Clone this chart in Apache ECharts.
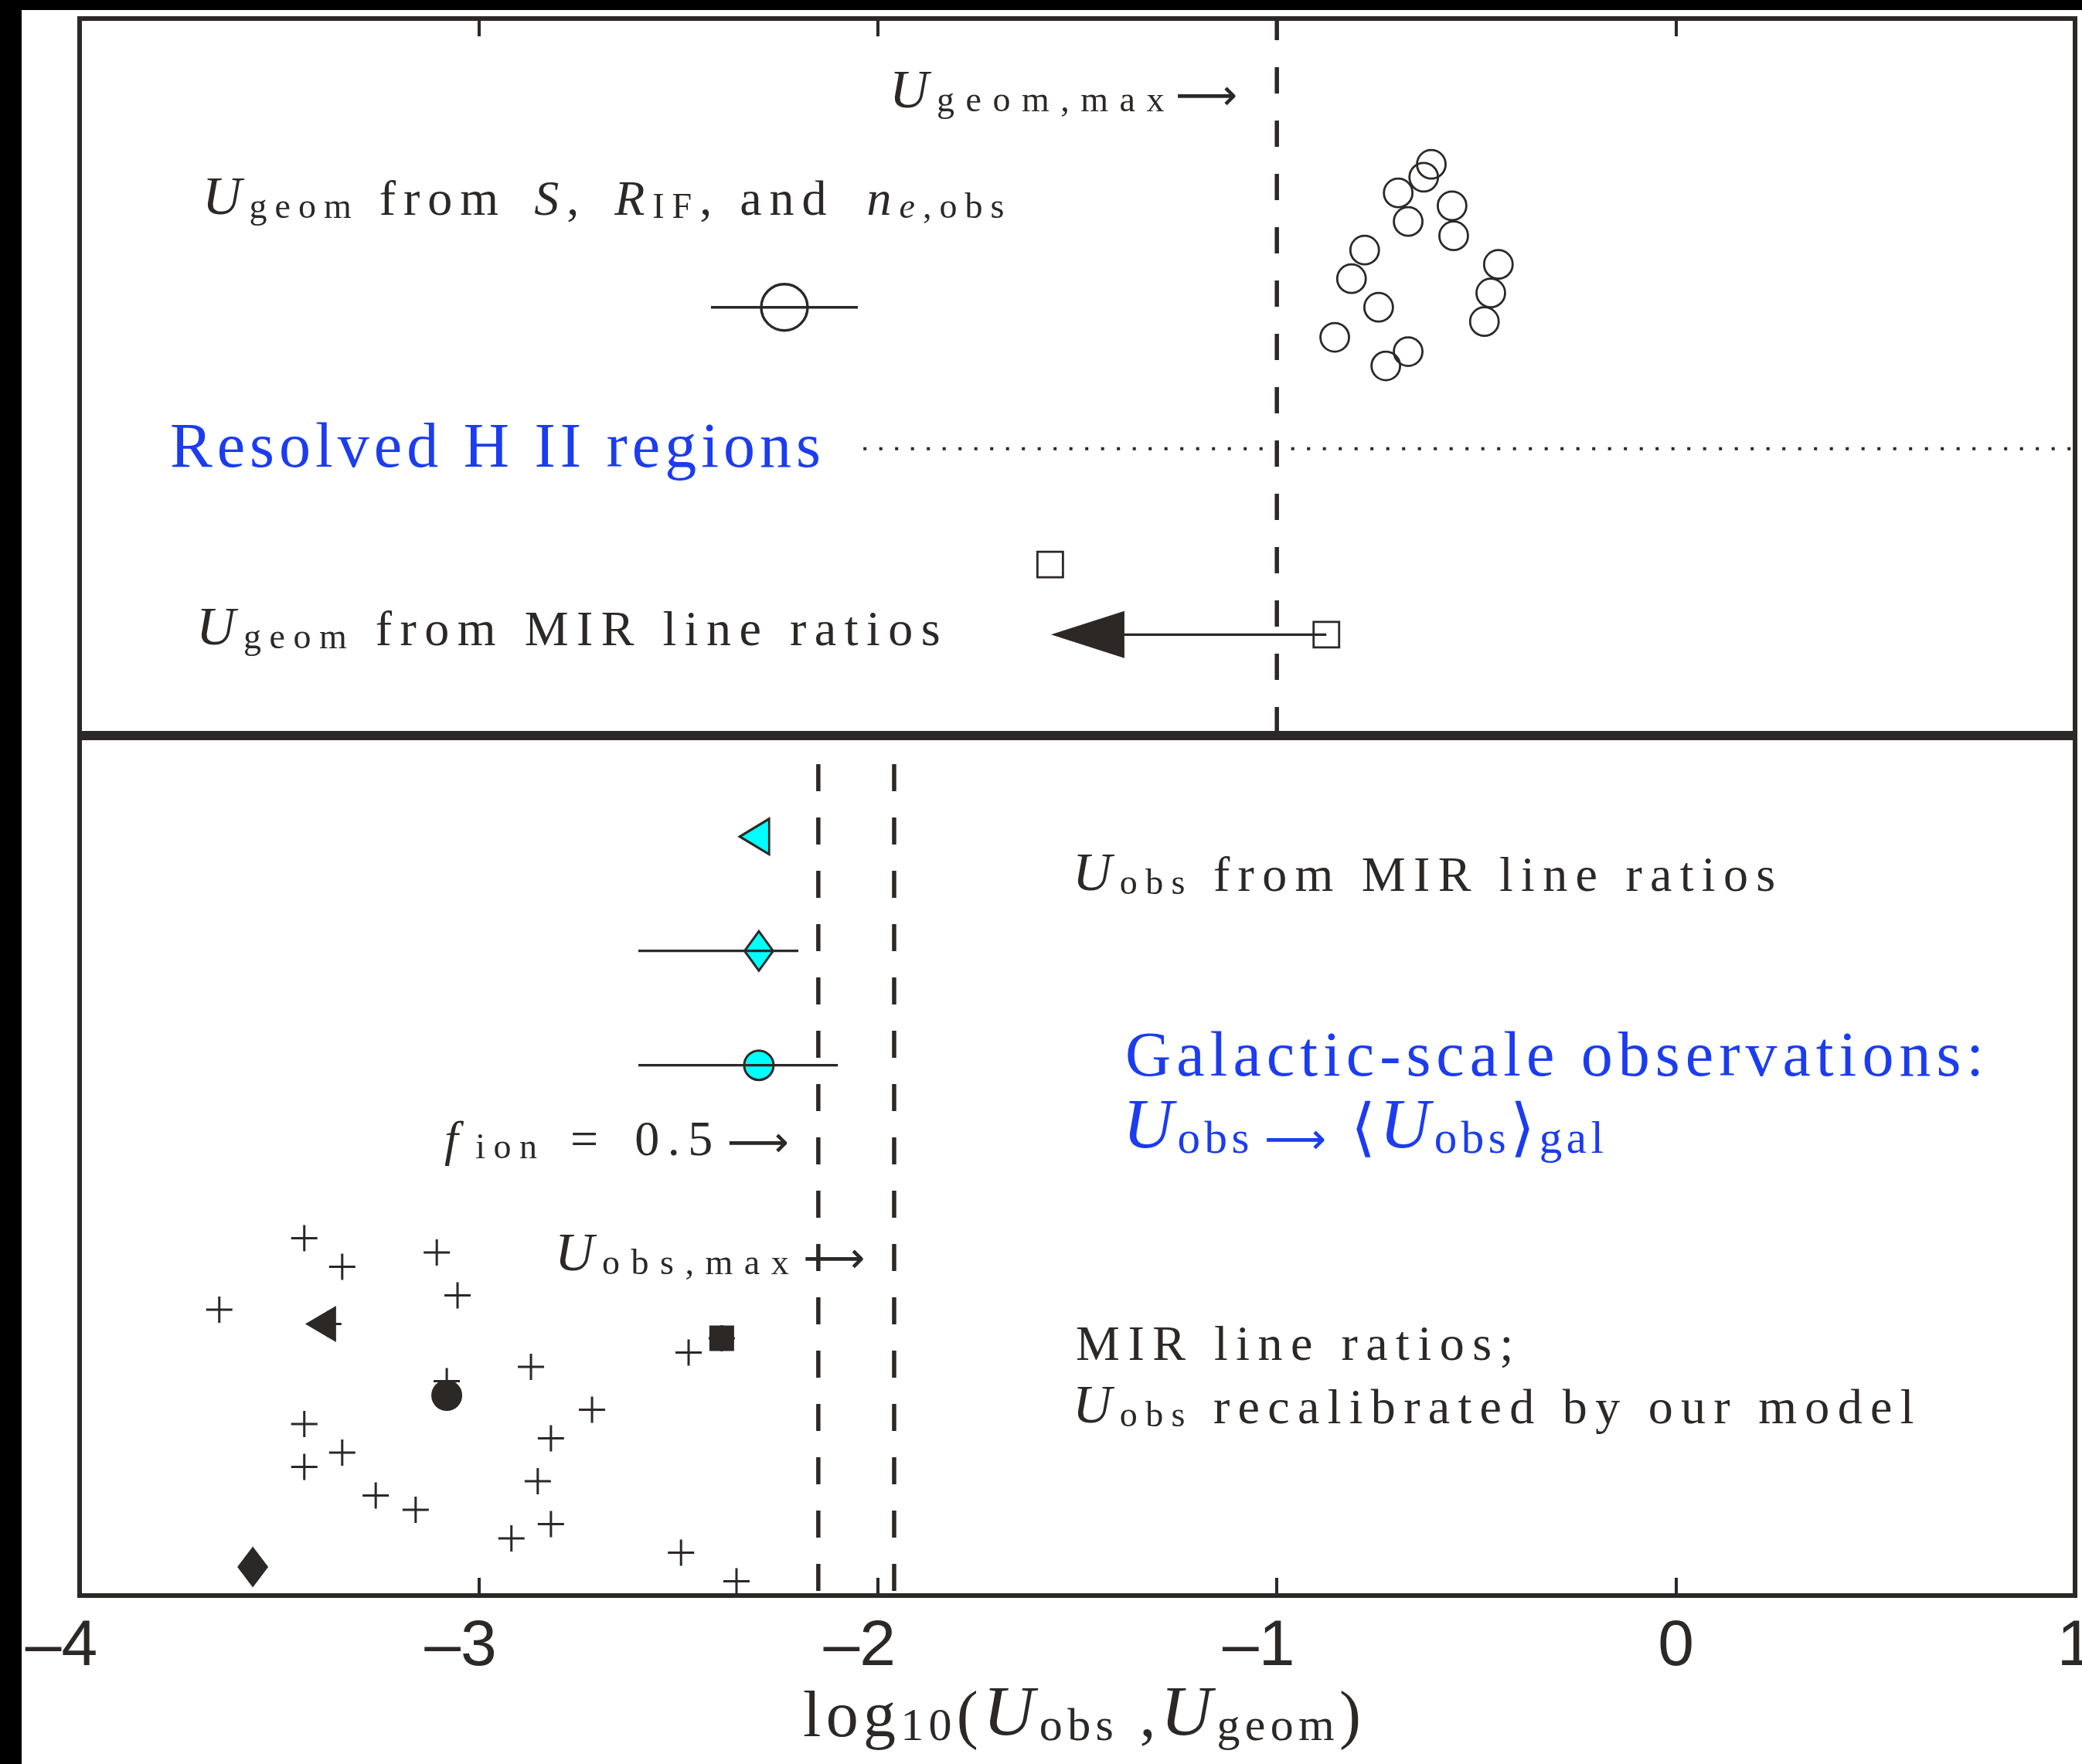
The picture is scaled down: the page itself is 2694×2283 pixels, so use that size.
<!DOCTYPE html>
<html>
<head>
<meta charset="utf-8">
<title>U_obs and U_geom</title>
<script src="https://cdn.jsdelivr.net/npm/echarts@6/dist/echarts.min.js"></script>
<style>
html, body { margin: 0; padding: 0; background: #fff; }
#main { width: 2694px; height: 2283px; }
</style>
</head>
<body>
<div id="main"></div>
<script>
// x axis: log10(U)
var xTicks = [-4, -3, -2, -1, 0, 1];

// top panel (resolved HII regions), y is just a row position 0..50
var hiiX = [-0.613, -0.632, -0.696, -0.561, -0.671, -0.557, -0.780, -0.445, -0.813, -0.464, -0.745, -0.480, -0.855, -0.671, -0.727];
var hiiY = [39.8, 38.9, 37.8, 36.9, 35.8, 34.8, 33.8, 32.8, 31.8, 30.8, 29.8, 28.8, 27.7, 26.7, 25.7];
var geomMean = [-2.234, 29.8];
var geomErr = [-2.418, -2.050];
var geomMaxX = -1;
var splitY = 19.9;
var splitFromX = -2.036;
var mirSqX = [-1.568, -0.876];
var mirSqY = [11.8, 6.9];
var mirLimitTip = -1.566;   // arrow (upper limit) for the lower square

// bottom panel (galactic-scale), y is a row position 0..60
var obsX = [-2.309, -2.298, -2.298];
var obsY = [53.1, 45.1, 37.1];
var obsLo = [null, -2.600, -2.600];
var obsHi = [null, -2.199, -2.100];
var fIonX = -2.149;
var obsMaxX = -1.959;
var plusX = [-3.437, -3.105, -3.342, -3.053, -3.650, -3.377, -2.391, -2.474, -2.869, -3.080, -2.716, -3.437, -2.819, -3.342, -3.437, -2.852, -3.258, -3.158, -2.819, -2.918, -2.493, -2.354];
var plusY = [25, 24, 23, 21, 20, 19, 18, 17, 16, 15, 13, 12, 11, 10, 9, 8, 7, 6, 5, 4, 3, 1];
var galTri = [-3.396, 19];
var galSq = [-2.391, 18];
var galDot = [-3.080, 14];
var galDia = [-3.566, 2];

var INK = '#2b2826';
var BLUE = '#1b3cf0';
var CYAN = '#00ffff';
var SERIF = 'Liberation Serif';

// long arrow glyph, sized to ~80px wide
var actx = document.createElement('canvas').getContext('2d');
actx.font = '100px "DejaVu Sans"';
var arrowW = actx.measureText('\u27f6').width / 100 || 1.6;
var ARROW = Math.round(80 / arrowW);

function pairs(xs, ys) {
    var out = [];
    for (var i = 0; i < xs.length; i++) {
        out.push([xs[i], ys[i]]);
    }
    return out;
}

// text with subscripts, placed by its baseline. a number in parts is an extra gap in px
function mathText(x, base, F, color, parts, ls) {
    var Fs = Math.round(F * 0.72);
    var kinds = {
        r: { size: F, style: 'normal', drop: 0, fam: SERIF, m: 0.3375, ls: ls },
        i: { size: F, style: 'italic', drop: 0, fam: SERIF, m: 0.3375, ls: ls },
        U: { size: Math.round(F * 1.1), style: 'italic', drop: 0, fam: SERIF, m: 0.3375, ls: ls },
        a: { size: ARROW, style: 'normal', drop: 0.51 * ARROW - 17, fam: 'DejaVu Sans', m: 0.346, ls: ls },
        s: { size: Fs, style: 'normal', drop: 0.19 * F, fam: SERIF, m: 0.3375, ls: ls },
        sw: { size: Fs, style: 'normal', drop: 0.19 * F, fam: SERIF, m: 0.3375, ls: ls + 4 },
        si: { size: Fs, style: 'italic', drop: 0.19 * F, fam: SERIF, m: 0.3375, ls: ls },
        s2: { size: Fs, style: 'normal', drop: 0.25 * F, fam: SERIF, m: 0.3375, ls: ls },
        g: { size: Fs, style: 'normal', drop: 0.36 * F, fam: SERIF, m: 0.3375, ls: ls }
    };
    var rich = {};
    for (var k in kinds) {
        var kk = kinds[k];
        rich[k] = {
            fontFamily: kk.fam,
            fontSize: kk.size,
            fontStyle: kk.style,
            fill: color,
            lineHeight: 2 * (kk.m * kk.size + 0.1625 * F - kk.drop),
            verticalAlign: 'bottom',
            padding: [0, kk.ls, 0, 0]
        };
    }
    var str = '';
    for (var p = 0; p < parts.length; p++) {
        if (typeof parts[p] === 'number') {
            rich['w' + p] = { width: parts[p], lineHeight: 1, verticalAlign: 'bottom' };
            str += '{w' + p + '| }';
            continue;
        }
        var chars = parts[p][0].split('');
        for (var c = 0; c < chars.length; c++) {
            str += '{' + parts[p][1] + '|' + chars[c] + '}';
        }
    }
    return {
        type: 'text',
        x: x,
        y: base + 0.1625 * F,
        z: 50,
        style: {
            text: str,
            rich: rich,
            fill: color,
            align: 'left',
            verticalAlign: 'bottom'
        }
    };
}

function hBar(name, xa, xb, y, axis, width) {
    return {
        name: name,
        type: 'line',
        xAxisIndex: axis,
        yAxisIndex: axis,
        data: [[xa, y], [xb, y]],
        symbol: 'none',
        silent: true,
        z: 4,
        lineStyle: { color: INK, width: width }
    };
}

function dots(name, axis, data, symbol, size, style, extra) {
    var s = {
        name: name,
        type: 'scatter',
        xAxisIndex: axis,
        yAxisIndex: axis,
        data: data,
        symbol: symbol,
        symbolSize: size,
        itemStyle: style
    };
    style.opacity = 1;
    for (var k in extra) {
        s[k] = extra[k];
    }
    return s;
}

function vDash(name, axis, x, from, to, dash, offset) {
    return {
        name: name,
        type: 'line',
        xAxisIndex: axis,
        yAxisIndex: axis,
        data: [[x, from], [x, to]],
        symbol: 'none',
        silent: true,
        z: 1,
        lineStyle: { color: INK, width: 5.5, type: dash, dashOffset: offset }
    };
}

var myChart = echarts.init(document.getElementById('main'));

var tickLabel = {
    margin: 25,
    formatter: function (v) {
        if (v < 0) {
            return '{m|\u2013}{d|' + (-v) + '}{p|}';
        }
        return '{d|' + v + '}';
    },
    rich: {
        m: { fontFamily: 'Liberation Sans', fontSize: 84, lineHeight: 84, color: INK },
        d: { fontFamily: 'Liberation Sans', fontSize: 84, lineHeight: 84, color: INK },
        p: { width: 47, lineHeight: 84 }
    }
};

var option = {
    backgroundColor: '#fff',
    animation: false,
    grid: [
        { left: 103, right: 9, top: 24, height: 925, show: true, borderColor: INK, borderWidth: 6, backgroundColor: 'transparent', outerBoundsMode: 'none', containLabel: false },
        { left: 103, right: 9, top: 955, height: 1110, show: true, borderColor: INK, borderWidth: 6, backgroundColor: 'transparent', outerBoundsMode: 'none', containLabel: false }
    ],
    xAxis: [
        {
            gridIndex: 0, type: 'value', position: 'top',
            min: xTicks[0], max: xTicks[xTicks.length - 1], interval: 1,
            axisLine: { show: false, onZero: false },
            axisTick: { show: true, inside: true, length: 23, lineStyle: { color: INK, width: 4 } },
            axisLabel: { show: false },
            splitLine: { show: false }
        },
        {
            gridIndex: 1, type: 'value', position: 'bottom',
            min: xTicks[0], max: xTicks[xTicks.length - 1], interval: 1,
            axisLine: { show: false, onZero: false },
            axisTick: { show: true, inside: true, length: 23, lineStyle: { color: INK, width: 4 } },
            axisLabel: tickLabel,
            splitLine: { show: false }
        }
    ],
    yAxis: [
        { gridIndex: 0, type: 'value', min: 0, max: 50, show: false },
        { gridIndex: 1, type: 'value', min: 0, max: 60, show: false }
    ],
    series: [
        // ---- top panel ----
        vDash('geom max', 0, geomMaxX, 0, 50, [34, 35], 0),
        {
            name: 'split',
            type: 'line', xAxisIndex: 0, yAxisIndex: 0,
            data: [[splitFromX, splitY], [xTicks[xTicks.length - 1], splitY]],
            symbol: 'none', silent: true, z: 1,
            lineStyle: { color: INK, width: 4, type: [4, 16.5] }
        },
        dots('HII regions', 0, pairs(hiiX, hiiY), 'circle', 37,
            { color: 'rgba(0,0,0,0)', borderColor: INK, borderWidth: 2.8 }),
        dots('geom mean', 0, [geomMean], 'circle', 60,
            { color: 'rgba(0,0,0,0)', borderColor: INK, borderWidth: 3.4 }),
        hBar('geom err', geomErr[0], geomErr[1], geomMean[1], 0, 3.4),
        dots('MIR geom', 0, pairs(mirSqX, mirSqY), 'rect', 33,
            { color: 'rgba(0,0,0,0)', borderColor: INK, borderWidth: 2.8 }),
        hBar('MIR limit', mirSqX[1], mirLimitTip + 0.184, mirSqY[1], 0, 3.4),
        dots('MIR limit head', 0, [[mirLimitTip + 0.092, mirSqY[1]]], 'triangle', [61, 95],
            { color: INK }, { symbolRotate: 90 }),

        // ---- bottom panel ----
        vDash('f_ion', 1, fIonX, 60, 0, [35, 34], 35),
        vDash('obs max', 1, obsMaxX, 60, 0, [35, 34], 35),
        dots('obs triangle', 1, [[obsX[0], obsY[0]]], 'triangle', [46, 38],
            { color: CYAN, borderColor: INK, borderWidth: 3 }, { symbolRotate: 90 }),
        dots('obs diamond', 1, [[obsX[1], obsY[1]]], 'diamond', [37, 51],
            { color: CYAN, borderColor: INK, borderWidth: 3 }),
        dots('obs circle', 1, [[obsX[2], obsY[2]]], 'circle', 38,
            { color: CYAN, borderColor: INK, borderWidth: 3 }),
        hBar('obs err 1', obsLo[1], obsHi[1], obsY[1], 1, 3.4),
        hBar('obs err 2', obsLo[2], obsHi[2], obsY[2], 1, 3.4),
        dots('recalibrated', 1, pairs(plusX, plusY), 'path://M5,0L5,10M0,5L10,5', 34,
            { color: 'rgba(0,0,0,0)', borderColor: INK, borderWidth: 3 }),
        dots('gal triangle', 1, [galTri], 'triangle', [47, 40], { color: INK }, { symbolRotate: 90, z: 3 }),
        dots('gal square', 1, [galSq], 'rect', [32, 33], { color: INK }, { z: 3 }),
        dots('gal dot', 1, [galDot], 'circle', 40, { color: INK }, { z: 3 }),
        dots('gal diamond', 1, [galDia], 'diamond', [40, 53], { color: INK }, { z: 3 })
    ],
    graphic: [
        // black edges of the scan
        { type: 'rect', shape: { x: 0, y: 0, width: 2694, height: 13 }, style: { fill: '#000' }, z: 100 },
        { type: 'rect', shape: { x: 0, y: 0, width: 28, height: 2283 }, style: { fill: '#000' }, z: 100 },

        mathText(1151, 145, 64, INK, [['U', 'U'], ['geom,max', 'sw'], ['\u27f6', 'a']], 10.5),
        mathText(262, 283, 64, INK, [['U', 'U'], ['geom', 's'], [' from ', 'r'], 10, ['S', 'i'], [', ', 'r'], 10, ['R', 'i'], ['IF', 's'], [', and ', 'r'], 16, ['n', 'i'], ['e', 'si'], [',obs', 's']], 10),
        mathText(220, 610, 82, BLUE, [['Resolved H II regions', 'r']], 6),
        mathText(254, 840, 64, INK, [['U', 'U'], ['geom', 's'], [' from MIR line ratios', 'r']], 10.5),

        mathText(1388, 1158, 64, INK, [['U', 'U'], ['obs', 's'], [' from MIR line ratios', 'r']], 10.3),
        mathText(1456, 1398, 82, BLUE, [['Galactic-scale observations:', 'r']], 7),
        mathText(1453, 1493, 82, BLUE, [['U', 'U'], ['obs', 's'], 14, ['\u27f6', 'a'], [' \u27e8', 'r'], ['U', 'U'], ['obs', 's'], ['\u27e9', 'r'], ['gal', 'g']], 5.5),
        mathText(575, 1500, 64, INK, [['f', 'i'], 12, ['ion', 's'], 6, [' = ', 'r'], 10, ['0.5', 'r'], 8, ['\u27f6', 'a']], 10.5),
        mathText(718, 1650, 64, INK, [['U', 'U'], ['obs,max', 'sw'], 4, ['\u27f6', 'a']], 10.5),
        mathText(1392, 1765, 64, INK, [['MIR line ratios;', 'r']], 10.5),
        mathText(1388, 1847, 64, INK, [['U', 'U'], ['obs', 's'], [' recalibrated by our model', 'r']], 10.3),

        mathText(1039, 2253, 84, INK, [['log', 'r'], ['10', 's2'], ['(', 'r'], ['U', 'U'], ['obs', 's'], [' ,', 'r'], ['U', 'U'], ['geom', 's'], [')', 'r']], 6.3)
    ]
};

myChart.setOption(option);
</script>
</body>
</html>
